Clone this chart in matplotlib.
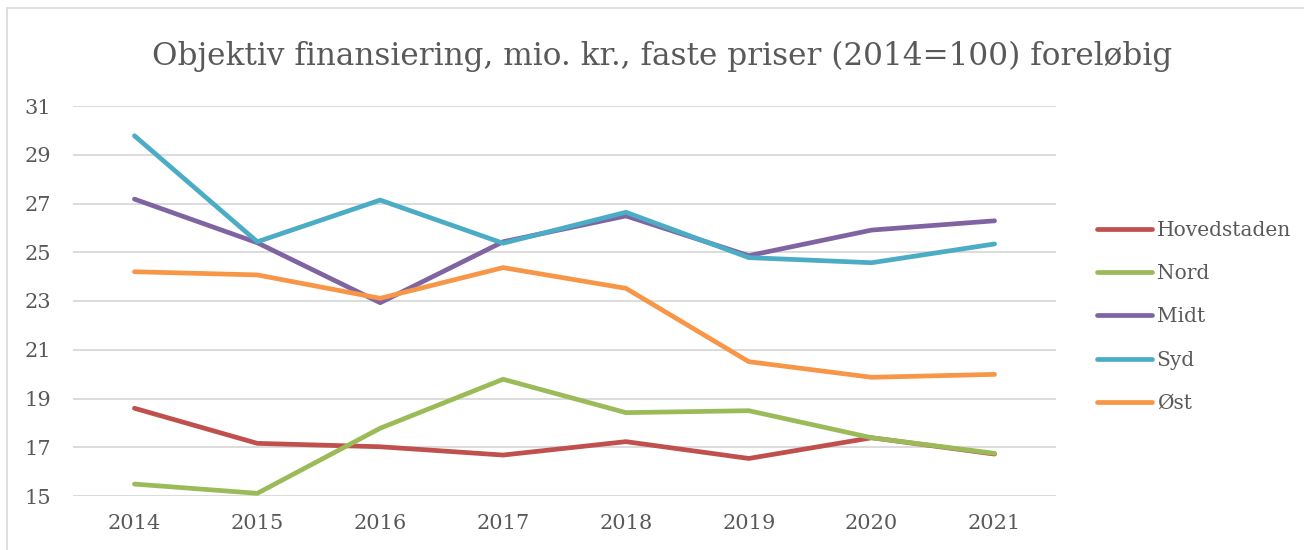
import matplotlib
matplotlib.use("Agg")
import matplotlib.pyplot as plt
from matplotlib.patches import Rectangle

years = ["2014", "2015", "2016", "2017", "2018", "2019", "2020", "2021"]
hovedstaden = [18.60, 17.16, 17.02, 16.68, 17.23, 16.54, 17.39, 16.72]
nord = [15.49, 15.11, 17.78, 19.79, 18.42, 18.50, 17.39, 16.75]
midt = [27.18, 25.39, 22.93, 25.43, 26.49, 24.86, 25.91, 26.29]
syd = [29.78, 25.43, 27.14, 25.37, 26.64, 24.78, 24.57, 25.34]
oest = [24.20, 24.07, 23.11, 24.37, 23.52, 20.51, 19.87, 19.99]
series_names = ["Hovedstaden", "Nord", "Midt", "Syd", "Øst"]
colors = ["#C0504D", "#9BBB59", "#8064A2", "#4BACC6", "#F79646"]
yticks = [15, 17, 19, 21, 23, 25, 27, 29, 31]
title = "Objektiv finansiering, mio. kr., faste priser (2014=100) foreløbig"

W, H = 1304, 550
fig = plt.figure(figsize=(W / 100, H / 100), dpi=100)
fig.patch.set_facecolor("white")
font = "DejaVu Serif"
txtc = "#595959"

# chart border
fig.patches.append(Rectangle((7 / W, -0.1), 1.2, 1 - 8 / H + 0.1, transform=fig.transFigure,
                             fill=False, edgecolor="#D9D9D9", linewidth=1.2))

ax = fig.add_axes([73 / W, 1 - 496 / H, (1056 - 73) / W, (496 - 106) / H])
x = list(range(len(years)))
data = [hovedstaden, nord, midt, syd, oest]
handles = []
for vals, name, c in zip(data, series_names, colors):
    ln, = ax.plot(x, vals, color=c, lw=3.4, solid_capstyle="round", solid_joinstyle="round", label=name)
    handles.append(ln)

ax.set_xlim(-0.5, len(years) - 0.5)
ax.set_ylim(15, 31)
ax.set_yticks(yticks)
ax.set_xticks(x)
ax.set_xticklabels(years)
ax.grid(axis="y", color="#D9D9D9", lw=1.3)
ax.set_axisbelow(True)
for s in ax.spines.values():
    s.set_visible(False)
ax.tick_params(axis="both", length=0, labelsize=15, labelcolor=txtc)
ax.tick_params(axis="y", pad=16)
ax.tick_params(axis="x", pad=13)
for lab in ax.get_xticklabels() + ax.get_yticklabels():
    lab.set_fontfamily(font)

fig.text(662 / W, 1 - 56 / H, title, ha="center", va="center", fontsize=22.4,
         color=txtc, fontfamily=font)

leg = fig.legend(handles=handles, loc="upper left", bbox_to_anchor=(1079 / W, 1 - 203 / H),
                 frameon=False, prop={"family": font, "size": 14.5}, labelcolor=txtc,
                 handlelength=2.7, handletextpad=0.25, labelspacing=1.2)

fig.savefig("out.png", dpi=100, facecolor="white")
